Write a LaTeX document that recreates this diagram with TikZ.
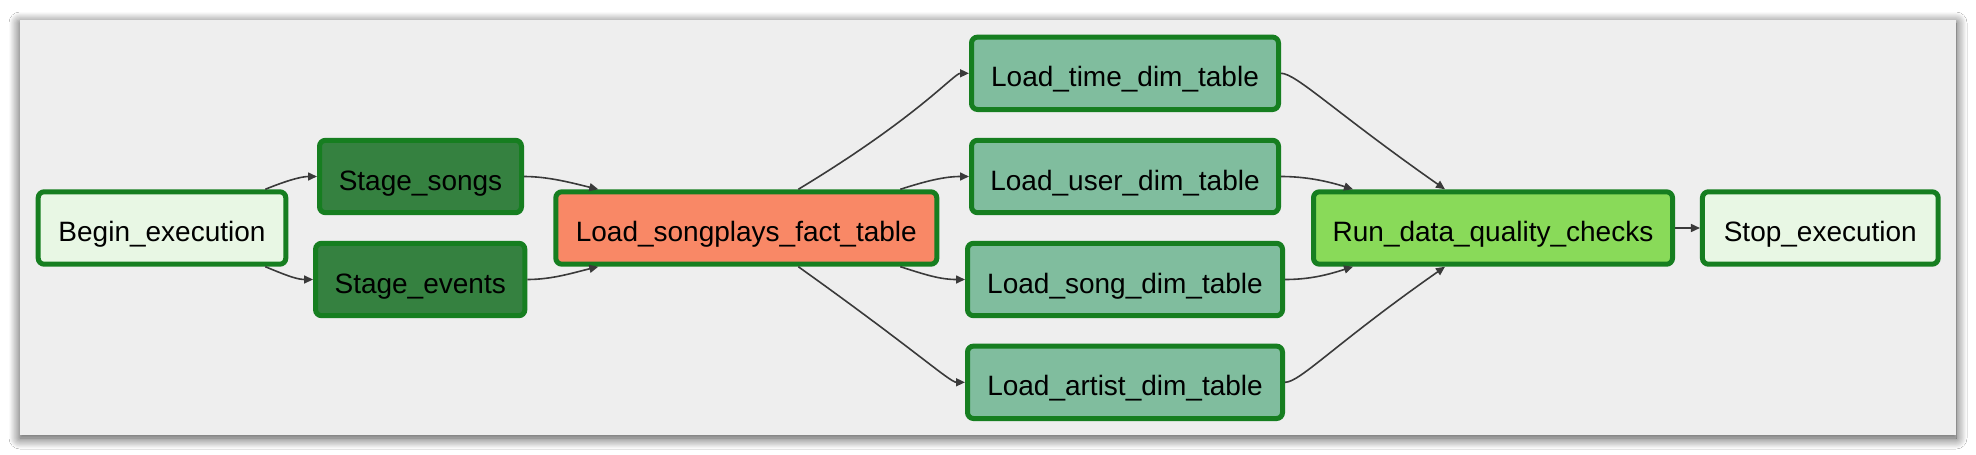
\documentclass[tikz,border=0pt]{standalone}
\usepackage{fontspec}
\setmainfont{Liberation Sans}
\usetikzlibrary{arrows.meta,shadows.blur}
\definecolor{bord}{RGB}{22,126,32}
\definecolor{dummyc}{HTML}{E8F7E4}
\definecolor{stagec}{HTML}{358140}
\definecolor{factc}{HTML}{F98866}
\definecolor{dimc}{HTML}{80BD9E}
\definecolor{dqc}{HTML}{89DA59}
\definecolor{panelbg}{HTML}{EEEEEE}
\definecolor{edgec}{RGB}{58,58,58}
\begin{document}
\begin{tikzpicture}[x=1pt,y=-1pt,
  task/.style={draw=bord, line width=5pt, rounded corners=6pt, minimum height=72.4pt,
    inner sep=0pt, text height=27pt, text depth=0pt, text=black,
    font=\fontsize{28}{32}\selectfont},
  edge/.style={draw=edgec, line width=1.6pt, -{Triangle[length=9pt,width=8pt]}}
]
\useasboundingbox[fill=white] (0,0) rectangle (1976,455);
\path[fill=panelbg, blur shadow={shadow blur radius=11pt, shadow xshift=0pt, shadow yshift=-3pt, shadow opacity=75, shadow blur steps=16}] (20,20) rectangle (1956,435);

\node[task, fill=dummyc, minimum width=247.6pt] (begin) at (162,228) {Begin\_execution};
\node[task, fill=stagec, minimum width=202pt] (songs) at (420.5,176.5) {Stage\_songs};
\node[task, fill=stagec, minimum width=209.3pt] (events) at (420.2,279.5) {Stage\_events};
\node[task, fill=factc, minimum width=381pt] (fact) at (746.3,228) {Load\_songplays\_fact\_table};
\node[task, fill=dimc, minimum width=307pt] (time) at (1125,73.3) {Load\_time\_dim\_table};
\node[task, fill=dimc, minimum width=307pt] (user) at (1125,176.5) {Load\_user\_dim\_table};
\node[task, fill=dimc, minimum width=315pt] (song) at (1125,279.5) {Load\_song\_dim\_table};
\node[task, fill=dimc, minimum width=315pt] (artist) at (1125,382.3) {Load\_artist\_dim\_table};
\node[task, fill=dqc, minimum width=359pt] (run) at (1493,228) {Run\_data\_quality\_checks};
\node[task, fill=dummyc, minimum width=235.7pt] (stop) at (1820.3,228) {Stop\_execution};

\draw[edge] ([xshift=-23pt]begin.north east) .. controls +(17,-7) and +(-17,0) .. (songs.west);
\draw[edge] ([xshift=-23pt]begin.south east) .. controls +(17,7) and +(-17,0) .. (events.west);
\draw[edge] (songs.east) .. controls +(25,0) and +(-25,-6) .. ([xshift=45pt]fact.north west);
\draw[edge] (events.east) .. controls +(25,0) and +(-25,6) .. ([xshift=45pt]fact.south west);
\draw[edge] ([xshift=52pt]fact.north) .. controls +(120,-72.5) and +(-15,0) .. (time.west);
\draw[edge] ([xshift=-39pt]fact.north east) .. controls +(25,-8) and +(-25,0) .. (user.west);
\draw[edge] ([xshift=-39pt]fact.south east) .. controls +(25,8) and +(-25,0) .. (song.west);
\draw[edge] ([xshift=52pt]fact.south) .. controls +(115,82) and +(-15,0) .. (artist.west);
\draw[edge] (time.east) .. controls +(15,0) and +(-110,-77) .. ([xshift=-48pt]run.north);
\draw[edge] (user.east) .. controls +(25,0) and +(-25,-8) .. ([xshift=42pt]run.north west);
\draw[edge] (song.east) .. controls +(25,0) and +(-25,8) .. ([xshift=42pt]run.south west);
\draw[edge] (artist.east) .. controls +(15,0) and +(-110,77) .. ([xshift=-48pt]run.south);
\draw[edge] (run.east) -- (stop.west);
\end{tikzpicture}
\end{document}
